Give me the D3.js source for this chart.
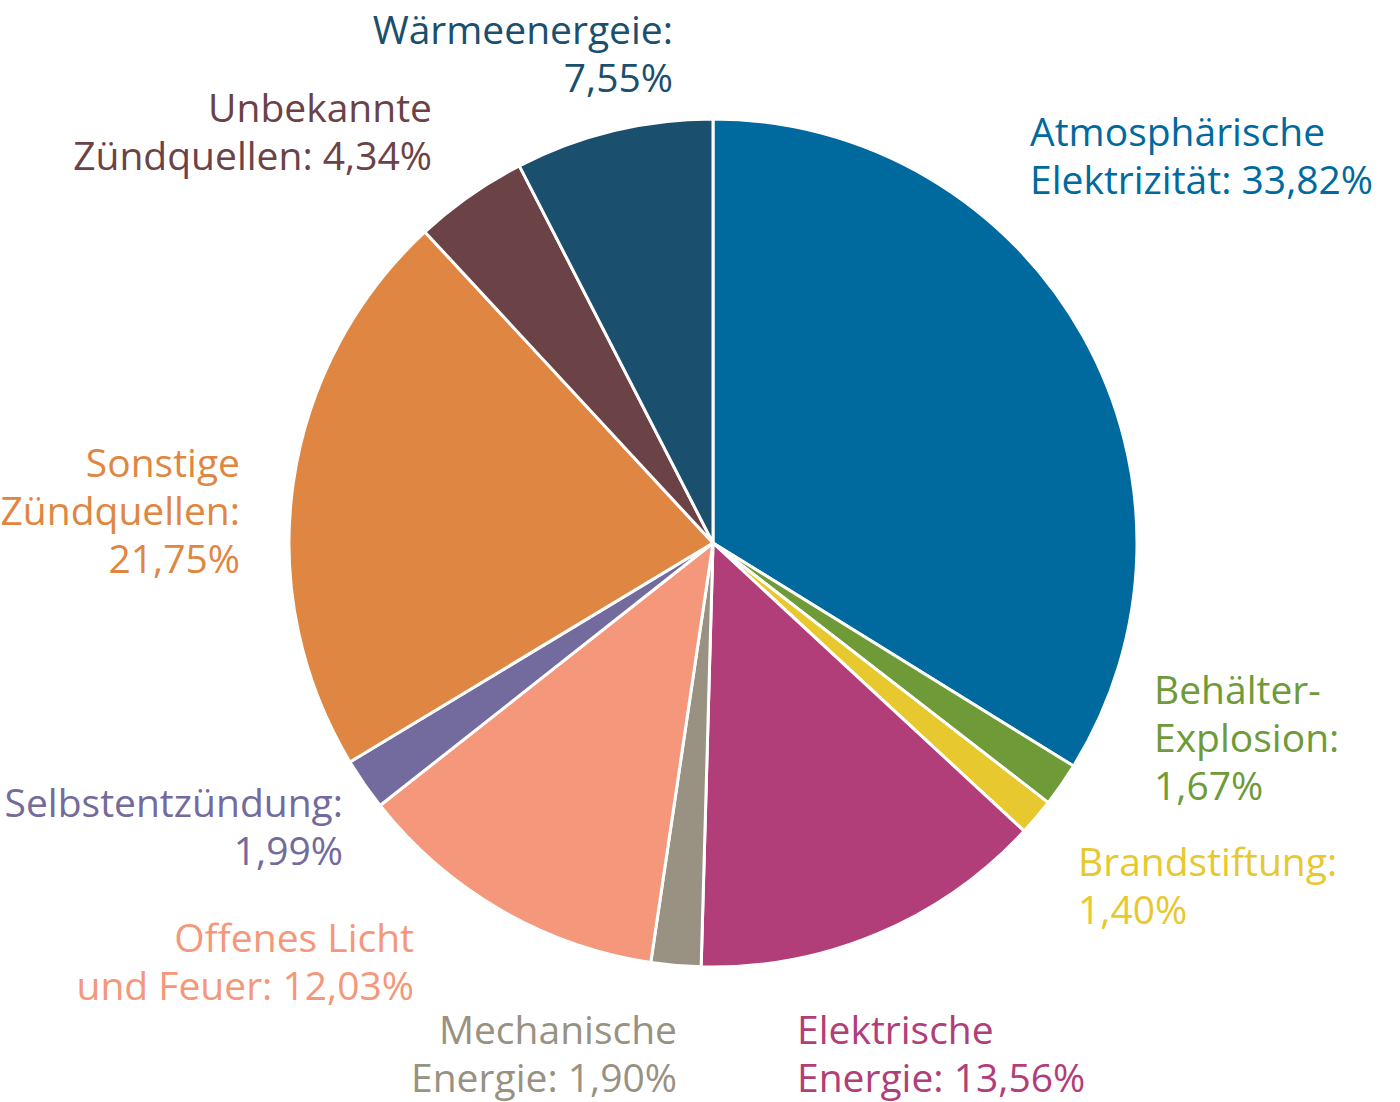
<!DOCTYPE html>
<html>
<head>
<meta charset="utf-8">
<script src="https://cdn.jsdelivr.net/npm/d3@7"></script>
<style>
  body { margin: 0; background: #fff; }
  text { font-family: "Open Sans", sans-serif; font-weight: 400; }
</style>
</head>
<body>
<div id="chart"></div>
<script>
// Zündquellen, clockwise from 12 o'clock
var categories = ["Atmosphärische Elektrizität", "Behälter-Explosion", "Brandstiftung",
  "Elektrische Energie", "Mechanische Energie", "Offenes Licht und Feuer",
  "Selbstentzündung", "Sonstige Zündquellen", "Unbekannte Zündquellen", "Wärmeenergeie"];
var values = [33.82, 1.67, 1.40, 13.56, 1.90, 12.03, 1.99, 21.75, 4.34, 7.55];
var colors = ["#006a9e", "#6f9a38", "#e8c82f", "#b13e78", "#999181", "#f4977a",
  "#736a9d", "#df8742", "#6b4246", "#1b4f6e"];
// label lines as printed
var labelLines = [
  ["Atmosphärische", "Elektrizität: 33,82%"],
  ["Behälter-", "Explosion:", "1,67%"],
  ["Brandstiftung:", "1,40%"],
  ["Elektrische", "Energie: 13,56%"],
  ["Mechanische", "Energie: 1,90%"],
  ["Offenes Licht", "und Feuer: 12,03%"],
  ["Selbstentzündung:", "1,99%"],
  ["Sonstige", "Zündquellen:", "21,75%"],
  ["Unbekannte", "Zündquellen: 4,34%"],
  ["Wärmeenergeie:", "7,55%"]
];

function init(){
  var w = 1400, h = 1102;
  var cx = 713, cy = 543, r = 424;
  var lineH = 48;
  // label anchor: x, first baseline, text-anchor
  var labelPos = [
    [1030, 146, "start"],
    [1154, 704, "start"],
    [1078, 876, "start"],
    [797, 1044, "start"],
    [677, 1044, "end"],
    [414, 952, "end"],
    [343, 817, "end"],
    [240, 477, "end"],
    [432, 122, "end"],
    [673, 44, "end"]
  ];

  var svg = d3.select("#chart").append("svg")
    .attr("width", w)
    .attr("height", h);

  var pie = d3.pie().sort(null).value(function(d){ return d; });
  var arc = d3.arc().innerRadius(0).outerRadius(r);

  var g = svg.append("g").attr("transform", "translate(" + cx + "," + cy + ")");
  g.selectAll("path")
    .data(pie(values))
    .enter()
    .append("path")
    .attr("d", arc)
    .attr("fill", function(d, i){ return colors[i]; })
    .attr("stroke", "#fff")
    .attr("stroke-width", 3)
    .attr("stroke-linejoin", "round");

  var labels = svg.selectAll("text.lbl")
    .data(categories)
    .enter()
    .append("text")
    .attr("class", "lbl")
    .attr("x", function(d, i){ return labelPos[i][0]; })
    .attr("y", function(d, i){ return labelPos[i][1]; })
    .attr("text-anchor", function(d, i){ return labelPos[i][2]; })
    .attr("font-size", 39)
    .attr("fill", function(d, i){ return colors[i]; });

  labels.each(function(d, i){
    var t = d3.select(this);
    labelLines[i].forEach(function(line, j){
      t.append("tspan")
        .attr("x", labelPos[i][0])
        .attr("dy", j === 0 ? 0 : lineH)
        .text(line);
    });
  });
}
window.onload = init;
</script>
</body>
</html>
